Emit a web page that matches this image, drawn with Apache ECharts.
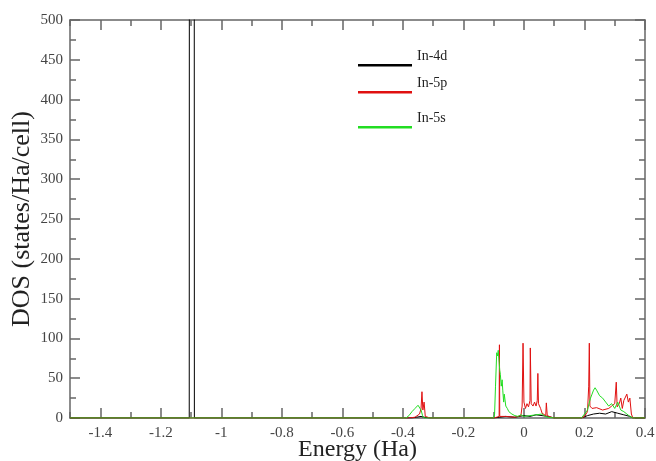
<!DOCTYPE html>
<html>
<head>
<meta charset="utf-8">
<script src="https://cdn.jsdelivr.net/npm/echarts@6/dist/echarts.min.js"></script>
<style>
  html, body { margin: 0; padding: 0; background: #fff; }
  #chart { width: 656px; height: 461px; }
</style>
</head>
<body>
<div id="chart"></div>
<script>
// tick labels
var xMajorTicks = [-1.4, -1.2, -1, -0.8, -0.6, -0.4, -0.2, 0, 0.2, 0.4];

// In-4d (black)
var d4Energy = [-1.5, -1.106, -1.104, -1.091, -1.089, -0.37, -0.355, -0.34, -0.33, -0.31,
  -0.1, -0.08, -0.06, -0.03, 0, 0.02, 0.04, 0.06, 0.08, 0.1,
  0.19, 0.21, 0.23, 0.25, 0.27, 0.29, 0.31, 0.33, 0.35, 0.36, 0.4];
var d4Dos = [0, 0, 3000, 3000, 0, 0, 1, 2, 1, 0,
  0, 1, 2, 1, 3, 2, 4, 3, 2, 0,
  0, 3, 5, 6, 5, 8, 6, 4, 2, 0, 0];

// In-5p (red)
var p5Energy = [-1.5, -0.38, -0.36, -0.345, -0.34, -0.337, -0.334, -0.33, -0.326, -0.31,
  -0.1, -0.09, -0.082, -0.081, -0.08, -0.06, -0.03, -0.01, -0.006, -0.003,
  0, 0.005, 0.01, 0.015, 0.02, 0.021, 0.024, 0.03, 0.035, 0.04,
  0.044, 0.046, 0.048, 0.055, 0.06, 0.065, 0.072, 0.074, 0.077, 0.09, 0.1,
  0.19, 0.2, 0.21, 0.214, 0.216, 0.218, 0.225, 0.24, 0.26, 0.28,
  0.29, 0.3, 0.305, 0.308, 0.315, 0.32, 0.325, 0.33, 0.34, 0.345, 0.35, 0.355, 0.36, 0.4];
var p5Dos = [0, 0, 1, 5, 12, 33, 10, 20, 2, 0,
  0, 1, 2, 92, 2, 2, 1, 3, 15, 94,
  20, 12, 18, 14, 22, 88, 18, 15, 20, 15,
  22, 56, 18, 12, 6, 4, 3, 19, 3, 1, 0,
  0, 2, 8, 40, 94, 15, 12, 13, 10, 12,
  15, 18, 45, 14, 18, 25, 12, 22, 30, 20, 25, 5, 0, 0];

// In-5s (green)
var s5Energy = [-1.5, -0.39, -0.38, -0.37, -0.36, -0.355, -0.35, -0.345, -0.34, -0.335, -0.33,
  -0.1, -0.097, -0.094, -0.09, -0.087, -0.085, -0.082, -0.08, -0.078, -0.075,
  -0.072, -0.07, -0.067, -0.065, -0.06, -0.055, -0.05, -0.04, -0.03, -0.02,
  -0.01, 0, 0.02, 0.04, 0.06, 0.07, 0.08, 0.1,
  0.19, 0.2, 0.21, 0.215, 0.22, 0.225, 0.23, 0.235, 0.24, 0.25, 0.26,
  0.27, 0.28, 0.29, 0.3, 0.31, 0.32, 0.33, 0.34, 0.35, 0.36, 0.4];
var s5Dos = [0, 0, 3, 8, 12, 10, 16, 14, 10, 3, 0,
  0, 5, 40, 82, 78, 85, 70, 60, 55, 40,
  48, 35, 20, 30, 15, 12, 8, 5, 3, 2,
  4, 2, 3, 4, 5, 2, 1, 0,
  0, 5, 10, 18, 25, 30, 35, 38, 35, 28, 25,
  20, 15, 18, 12, 20, 10, 8, 5, 2, 0, 0];

function pairs(xs, ys) {
  return xs.map(function (x, i) { return [x, ys[i]]; });
}

var serif = 'Liberation Serif';
var axisCol = '#666';

function xAxisDef(pos, major, labels) {
  var a = {
    type: 'value', position: pos, min: -1.5, max: 0.4,
    axisLine: { show: major, onZero: false, lineStyle: { color: axisCol, width: 1.5 } },
    splitLine: { show: false },
    axisTick: { inside: true, length: major ? 10 : 6, lineStyle: { color: axisCol, width: 1.5 } },
    axisLabel: { show: labels, color: '#444', fontFamily: serif, fontSize: 15, margin: 8 }
  };
  if (major) {
    a.axisTick.customValues = xMajorTicks;
    a.axisLabel.customValues = xMajorTicks;
  } else {
    a.interval = 0.1;
  }
  if (labels) {
    a.name = 'Energy (Ha)';
    a.nameLocation = 'middle';
    a.nameGap = 20;
    a.nameMoveOverlap = false;
    a.nameTextStyle = { fontFamily: serif, fontSize: 24, color: '#222' };
  }
  return a;
}

function yAxisDef(pos, labels) {
  var a = {
    type: 'value', position: pos, min: 0, max: 500, interval: 50,
    axisLine: { show: true, onZero: false, lineStyle: { color: axisCol, width: 1.5 } },
    splitLine: { show: false },
    axisTick: { inside: true, length: 10, lineStyle: { color: axisCol, width: 1.5 } },
    minorTick: { show: true, splitNumber: 2, length: 6, lineStyle: { color: axisCol, width: 1.5 } },
    axisLabel: { show: labels, color: '#444', fontFamily: serif, fontSize: 15, margin: 7 }
  };
  if (labels) {
    a.name = 'DOS (states/Ha/cell)';
    a.nameLocation = 'middle';
    a.nameGap = 35;
    a.nameMoveOverlap = false;
    a.nameTextStyle = { fontFamily: serif, fontSize: 26, color: '#222' };
  }
  return a;
}

// legend icon: a line at the bottom of the box so the text sits above it
var legendIcon = 'path://M0,0L0.01,0L0.01,0.01Z M0,17L54,17L54,19.5L0,19.5Z';

function legendDef(name, top) {
  return {
    data: [name], left: 358, top: top, padding: 0,
    icon: legendIcon, itemWidth: 54, itemHeight: 20, itemGap: 0,
    selectedMode: false,
    textStyle: { fontFamily: serif, fontSize: 14, color: '#222' }
  };
}

function lineSeries(name, color, data) {
  return {
    name: name, type: 'line', data: data, showSymbol: false, symbol: 'none',
    xAxisIndex: 0, yAxisIndex: 0, clip: true,
    lineStyle: { color: color, width: 1 }, itemStyle: { color: color },
    animation: false
  };
}

var chart = echarts.init(document.getElementById('chart'));
chart.setOption({
  backgroundColor: '#fff',
  animation: false,
  grid: { left: 70, right: 11, top: 20, bottom: 43, containLabel: false, outerBoundsMode: 'none' },
  legend: [
    legendDef('In-4d', 47),
    legendDef('In-5p', 74),
    legendDef('In-5s', 109)
  ],
  xAxis: [
    xAxisDef('bottom', true, true),
    xAxisDef('bottom', false, false),
    xAxisDef('top', true, false),
    xAxisDef('top', false, false)
  ],
  yAxis: [
    yAxisDef('left', true),
    yAxisDef('right', false)
  ],
  series: [
    lineSeries('In-4d', '#000000', pairs(d4Energy, d4Dos)),
    lineSeries('In-5p', '#e01010', pairs(p5Energy, p5Dos)),
    lineSeries('In-5s', '#22dd22', pairs(s5Energy, s5Dos))
  ]
});
</script>
</body>
</html>
